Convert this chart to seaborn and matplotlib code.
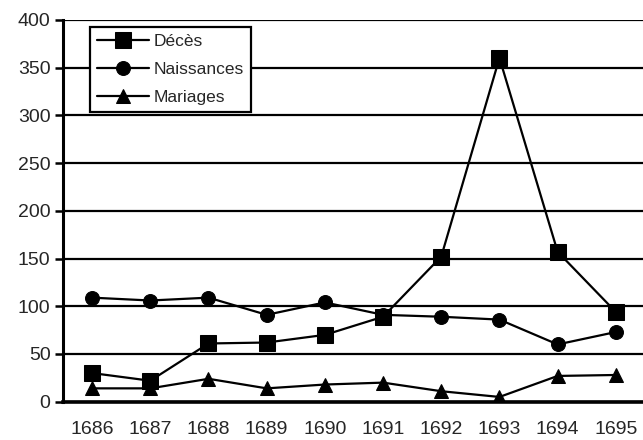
import numpy as np
import pandas as pd
import matplotlib
matplotlib.use("Agg")
import matplotlib.pyplot as plt
import seaborn as sns

annees = [1686, 1687, 1688, 1689, 1690, 1691, 1692, 1693, 1694, 1695]
deces = [30, 22, 61, 62, 70, 89, 152, 360, 157, 94]
naissances = [109, 106, 109, 91, 104, 91, 89, 86, 60, 73]
mariages = [14, 14, 24, 14, 18, 20, 11, 5, 27, 28]

series = [
	("Décès", deces, "s", 12),
	("Naissances", naissances, "o", 10),
	("Mariages", mariages, "^", 10.5),
]

sns.set_style("white")
plt.rcParams['font.family'] = ['Liberation Sans', 'DejaVu Sans']

fig = plt.figure(figsize=(6.43, 4.40), dpi=100)
ax = fig.add_axes([0.098, 0.087, 0.905, 0.868])

for nom, valeurs, marqueur, taille in series:
	df = pd.DataFrame({'annee': annees, 'valeur': valeurs})
	sns.lineplot(data=df, x='annee', y='valeur', ax=ax, color='black',
				 marker=marqueur, markersize=taille, linewidth=1.6,
				 markeredgecolor='black', markerfacecolor='black', label=nom)

ax.set_xlim(annees[0] - 0.5, annees[-1] + 0.5)
ax.set_ylim(0, 400)
ax.set_yticks(np.arange(0, 401, 50))
ax.yaxis.grid(True, color='black', linewidth=1.6)
ax.set_axisbelow(True)

# ticks between categories, labels at centers
ax.set_xticks(annees)
ax.set_xticklabels([str(a) for a in annees])
ax.set_xticks([a + 0.5 for a in annees[:-1]] + [annees[0] - 0.5], minor=True)
ax.tick_params(axis='x', which='major', length=0, pad=14, labelsize=14)
ax.tick_params(axis='x', which='minor', length=6, width=1.8, color='black', direction='out')
ax.tick_params(axis='y', length=6, width=1.8, color='black', direction='out', pad=3, labelsize=14, left=True)

ax.set_xlabel("")
ax.set_ylabel("")
for s in ['top', 'right']:
	ax.spines[s].set_visible(False)
ax.spines['left'].set_color('black')
ax.spines['left'].set_linewidth(2.2)
ax.spines['bottom'].set_color('black')
ax.spines['bottom'].set_linewidth(2.6)

leg = ax.legend(loc='upper left', bbox_to_anchor=(0.046, 0.982), borderaxespad=0,
				fancybox=False, framealpha=1, edgecolor='black', fontsize=12.5,
				handlelength=3.0, handletextpad=0.3, labelspacing=0.75,
				borderpad=0.4)
leg.get_frame().set_linewidth(1.6)

fig.savefig("out.png", dpi=100)
